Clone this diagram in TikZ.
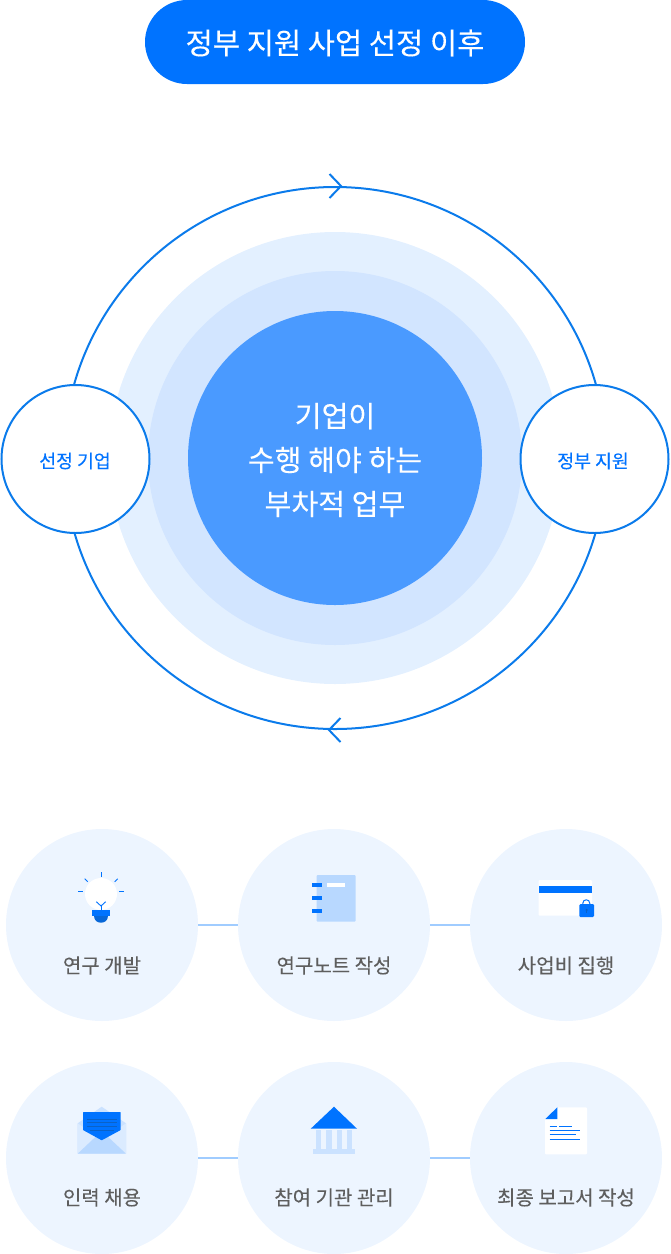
\documentclass[tikz,border=0pt]{standalone}
\usepackage{fontspec}
\setmainfont{Noto Sans CJK KR}
\newfontfamily\medfont[FakeBold=0.25]{Noto Sans CJK KR}
\newfontfamily\softfont[FakeBold=0.1]{Noto Sans CJK KR}
\definecolor{mainblue}{HTML}{0073FF}
\definecolor{ringblue}{HTML}{0B7BEB}
\definecolor{halolight}{HTML}{E3F0FF}
\definecolor{halomid}{HTML}{D2E5FF}
\definecolor{corefill}{HTML}{4A9AFF}
\definecolor{taskfill}{HTML}{EDF5FF}
\definecolor{linkblue}{HTML}{A0CCFF}
\definecolor{paleblue}{HTML}{B8D8FF}
\definecolor{paleback}{HTML}{CBE2FF}
\definecolor{deepblue}{HTML}{0A62C8}
\definecolor{tasktext}{HTML}{5E5E5E}
\tikzset{
  disc/.style={circle, inner sep=0pt, minimum size=#1},
  sidenode/.style={disc=148pt, draw=ringblue, line width=2pt, fill=white},
  sidelabel/.style={text=mainblue, inner sep=0pt, font=\medfont\fontsize{18.3}{22}\selectfont},
  tasknode/.style={disc=192pt, fill=taskfill},
  tasklabel/.style={text=tasktext, inner sep=0pt, font=\softfont\fontsize{20}{24}\selectfont},
  tasklink/.style={draw=linkblue, line width=2pt},
  chevron/.style={draw=ringblue, line width=2pt},
  rayline/.style={draw=mainblue, line width=0.9pt},
}
\begin{document}
\begin{tikzpicture}[x=1pt, y=-1pt]
    \useasboundingbox (0,0) rectangle (670,1254);

    % Title
    \node[rounded corners=42pt, fill=mainblue, minimum width=380pt, minimum height=84pt, inner sep=0pt] (title) at (335,42) {};
    \node[text=white, inner sep=0pt, font=\medfont\fontsize{29.6}{34}\selectfont] (titlelabel) at (335,43) {정부 지원 사업 선정 이후};

    % Cycle
    \node[disc=452pt, fill=halolight] (haloouter) at (335,458) {};
    \node[disc=374pt, fill=halomid] (halomiddle) at (335,458) {};
    \node[disc=294pt, fill=corefill] (core) at (335,458) {};
    \node[text=white, inner sep=0pt, align=center, font=\softfont\fontsize{29.2}{44}\selectfont] (corelabel) at (335,460) {기업이\\수행 해야 하는\\부차적 업무};
    \node[disc=542pt, draw=ringblue, line width=2pt] (ring) at (335,458) {};
    \node[sidenode] (selected) at (75.5,459) {};
    \node[sidenode] (support) at (594.5,459) {};
    \node[sidelabel] (selectedlabel) at (75,461) {선정 기업};
    \node[sidelabel] (supportlabel) at (593,461) {정부 지원};

    % Direction marks on the ring
    \coordinate (toptip) at ([xshift=6pt]ring.north);
    \coordinate (bottomtip) at ([xshift=-6pt]ring.south);
    \draw[chevron] ([shift={(-11.5pt,-12pt)}]toptip) -- (toptip) -- ([shift={(-11.5pt,12pt)}]toptip);
    \draw[chevron] ([shift={(11.5pt,-12pt)}]bottomtip) -- (bottomtip) -- ([shift={(11.5pt,12pt)}]bottomtip);

    % Task circles and their labels
    \foreach \name/\cx/\cy in {research/102/925, notebook/334/925, budget/566/925, hiring/102/1158, agency/334/1158, report/566/1158}
        \node[tasknode] (\name) at (\cx,\cy) {};
    \foreach \name/\cx/\cy/\txt in {research/102/965.5/연구 개발, notebook/334/965.5/연구노트 작성, budget/566/965.5/사업비 집행, hiring/102/1197.5/인력 채용, agency/334/1197.5/참여 기관 관리, report/566/1197.5/최종 보고서 작성}
        \node[tasklabel] (\name label) at (\cx,\cy) {\txt};

    % Links between the tasks
    \foreach \a/\b in {research/notebook, notebook/budget, hiring/agency, agency/report}
        \draw[tasklink] (\a) -- (\b);

    % Bulb icon
    \fill[white] (101,894) circle (16pt);
    \draw[rayline] (101,872) -- (101,877);
    \draw[rayline] (78,891) -- (83,891);
    \draw[rayline] (119,891) -- (124,891);
    \draw[rayline] (84.7,878.7) -- (87.7,881.7);
    \draw[rayline] (117.7,878.7) -- (114.7,881.7);
    \draw[rayline] (96.3,901.7) -- (101,906) -- (105.7,901.7);
    \draw[rayline] (101,906) -- (101,910);
    \fill[mainblue] (92.3,910) rectangle (110,916);
    \fill[deepblue!70!mainblue] (94.3,916) -- (108.3,916) .. controls (108.3,925) and (94.3,925) .. (94.3,916) -- cycle;

    % Notebook icon
    \fill[paleblue, rounded corners=1pt] (316.7,875) rectangle (355.7,921.7);
    \foreach \ry in {883.3,896,909}
        \fill[mainblue] (312,\ry) rectangle (321.7,\ry+3.8);
    \fill[white] (327.3,883) rectangle (345,886.7);

    % Card icon
    \fill[white, rounded corners=1pt] (538.7,880) rectangle (592,915.7);
    \fill[mainblue] (538.7,886) rectangle (592,892.7);
    \draw[mainblue, line width=1pt] (582.8,905) -- (582.8,903.3) .. controls (582.8,898.6) and (589.8,898.6) .. (589.8,903.3) -- (589.8,905);
    \fill[mainblue, rounded corners=1.2pt] (579.3,904) rectangle (594,917);
    \fill[deepblue] (586.6,910) circle (1.2pt);
    \draw[deepblue, line width=0.7pt] (586.6,910) -- (586.6,913);

    % Envelope icon
    \fill[paleback] (77.7,1123.3) -- (101.7,1106.7) -- (126,1123.3) -- (126,1153.7) -- (77.7,1153.7) -- cycle;
    \fill[paleback!70!white] (77.7,1123.3) -- (101.7,1140.3) -- (77.7,1153.7) -- cycle;
    \fill[paleback!70!white] (126,1123.3) -- (101.7,1140.3) -- (126,1153.7) -- cycle;
    \fill[paleblue, rounded corners=0.6pt] (77.7,1153.7) -- (101.7,1131) -- (126,1153.7) -- cycle;
    \fill[mainblue, rounded corners=0.6pt] (83,1112) -- (120.7,1112) -- (120.7,1130) -- (101.7,1140.3) -- (83,1130) -- cycle;
    \foreach \ly/\lx in {1119/0,1122.7/0,1126.3/0,1130/3}
        \draw[deepblue, line width=0.7pt] (87.3+\lx,\ly) -- (116.7-\lx,\ly);

    % Bank icon
    \fill[mainblue] (334,1106.7) -- (357,1128.7) -- (310.7,1128.7) -- cycle;
    \foreach \colx in {316,326.3,336.7,347}
        \fill[paleback] (\colx,1129.7) rectangle (\colx+5.4,1149.3);
    \fill[paleback] (313,1149.3) rectangle (355,1154.3);

    % Report icon
    \fill[white, rounded corners=1pt] (557.3,1107.3) -- (587,1107.3) -- (587,1154.3) -- (545,1154.3) -- (545,1119) -- cycle;
    \fill[mainblue] (557.3,1107.3) -- (557.3,1119) -- (545.3,1119) -- cycle;
    \foreach \lx/\ly/\lend in {549.7/1126.3/557.3, 559.3/1126.3/572.3, 549.7/1130/580, 549.7/1134.3/576, 549.7/1139/580}
        \draw[mainblue, line width=0.9pt] (\lx,\ly) -- (\lend,\ly);
\end{tikzpicture}
\end{document}
